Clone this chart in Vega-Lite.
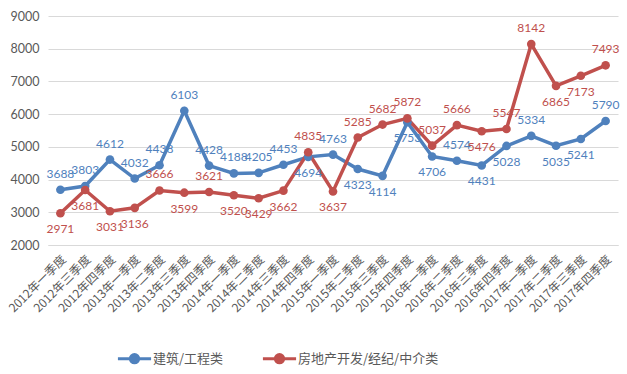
{
  "$schema": "https://vega.github.io/schema/vega-lite/v6.json",
  "width": 570,
  "height": 229,
  "autosize": {"type": "none"},
  "padding": {"left": 48, "top": 16, "right": 9, "bottom": 129},
  "background": "white",
  "config": {"view": {"stroke": null}, "font": "Noto Sans CJK SC"},
  "datasets": {
    "d": [
      {"q": "2012年一季度", "s": "建筑/工程类", "v": 3688},
      {"q": "2012年三季度", "s": "建筑/工程类", "v": 3803},
      {"q": "2012年四季度", "s": "建筑/工程类", "v": 4612},
      {"q": "2013年一季度", "s": "建筑/工程类", "v": 4032},
      {"q": "2013年二季度", "s": "建筑/工程类", "v": 4438},
      {"q": "2013年三季度", "s": "建筑/工程类", "v": 6103},
      {"q": "2013年四季度", "s": "建筑/工程类", "v": 4428},
      {"q": "2014年一季度", "s": "建筑/工程类", "v": 4188},
      {"q": "2014年二季度", "s": "建筑/工程类", "v": 4205},
      {"q": "2014年三季度", "s": "建筑/工程类", "v": 4453},
      {"q": "2014年四季度", "s": "建筑/工程类", "v": 4694},
      {"q": "2015年一季度", "s": "建筑/工程类", "v": 4763},
      {"q": "2015年二季度", "s": "建筑/工程类", "v": 4323},
      {"q": "2015年三季度", "s": "建筑/工程类", "v": 4114},
      {"q": "2015年四季度", "s": "建筑/工程类", "v": 5753},
      {"q": "2016年一季度", "s": "建筑/工程类", "v": 4706},
      {"q": "2016年二季度", "s": "建筑/工程类", "v": 4574},
      {"q": "2016年三季度", "s": "建筑/工程类", "v": 4431},
      {"q": "2016年四季度", "s": "建筑/工程类", "v": 5028},
      {"q": "2017年一季度", "s": "建筑/工程类", "v": 5334},
      {"q": "2017年二季度", "s": "建筑/工程类", "v": 5035},
      {"q": "2017年三季度", "s": "建筑/工程类", "v": 5241},
      {"q": "2017年四季度", "s": "建筑/工程类", "v": 5790},
      {"q": "2012年一季度", "s": "房地产开发/经纪/中介类", "v": 2971},
      {"q": "2012年三季度", "s": "房地产开发/经纪/中介类", "v": 3681},
      {"q": "2012年四季度", "s": "房地产开发/经纪/中介类", "v": 3031},
      {"q": "2013年一季度", "s": "房地产开发/经纪/中介类", "v": 3136},
      {"q": "2013年二季度", "s": "房地产开发/经纪/中介类", "v": 3666},
      {"q": "2013年三季度", "s": "房地产开发/经纪/中介类", "v": 3599},
      {"q": "2013年四季度", "s": "房地产开发/经纪/中介类", "v": 3621},
      {"q": "2014年一季度", "s": "房地产开发/经纪/中介类", "v": 3520},
      {"q": "2014年二季度", "s": "房地产开发/经纪/中介类", "v": 3429},
      {"q": "2014年三季度", "s": "房地产开发/经纪/中介类", "v": 3662},
      {"q": "2014年四季度", "s": "房地产开发/经纪/中介类", "v": 4835},
      {"q": "2015年一季度", "s": "房地产开发/经纪/中介类", "v": 3637},
      {"q": "2015年二季度", "s": "房地产开发/经纪/中介类", "v": 5285},
      {"q": "2015年三季度", "s": "房地产开发/经纪/中介类", "v": 5682},
      {"q": "2015年四季度", "s": "房地产开发/经纪/中介类", "v": 5872},
      {"q": "2016年一季度", "s": "房地产开发/经纪/中介类", "v": 5037},
      {"q": "2016年二季度", "s": "房地产开发/经纪/中介类", "v": 5666},
      {"q": "2016年三季度", "s": "房地产开发/经纪/中介类", "v": 5476},
      {"q": "2016年四季度", "s": "房地产开发/经纪/中介类", "v": 5547},
      {"q": "2017年一季度", "s": "房地产开发/经纪/中介类", "v": 8142},
      {"q": "2017年二季度", "s": "房地产开发/经纪/中介类", "v": 6865},
      {"q": "2017年三季度", "s": "房地产开发/经纪/中介类", "v": 7173},
      {"q": "2017年四季度", "s": "房地产开发/经纪/中介类", "v": 7493}
    ]
  },
  "data": {"name": "d"},
  "transform": [
    {"window": [{"op": "row_number", "as": "i"}], "groupby": ["s"]},
    {"joinaggregate": [{"op": "sum", "field": "v", "as": "tot"}], "groupby": ["q"]},
    {"window": [{"op": "lag", "field": "v", "as": "pv"}, {"op": "lead", "field": "v", "as": "nv"}], "groupby": ["s"], "sort": [{"field": "i"}]},
    {"calculate": "datum.tot - datum.v", "as": "o"},
    {"calculate": "datum.pv == null ? datum.nv : (datum.nv == null ? datum.pv : (datum.pv + datum.nv) / 2)", "as": "nm"},
    {"calculate": "abs(datum.v - datum.o) >= 1000 ? (datum.v >= datum.nm) : (datum.v > datum.o ? true : (abs(datum.v - datum.o) >= 700 && datum.v >= datum.nm))", "as": "above"}
  ],
  "encoding": {
    "x": {
      "field": "q", "type": "nominal", "sort": {"field": "i", "op": "min"},
      "scale": {"type": "point", "padding": 0.5},
      "axis": {
        "title": null, "labelAngle": -45, "labelAlign": "right", "labelBaseline": "middle",
        "labelFontSize": 12, "labelColor": "#595959", "labelFont": "Noto Sans CJK SC",
        "ticks": false, "domain": true, "domainColor": "#D9D9D9", "labelPadding": 12,
        "labelOffset": 3, "grid": false
      }
    },
    "y": {
      "field": "v", "type": "quantitative",
      "scale": {"domain": [2000, 9000], "nice": false, "zero": false},
      "axis": {
        "title": null, "values": [2000, 3000, 4000, 5000, 6000, 7000, 8000, 9000], "format": "d",
        "labelFontSize": 12.5, "labelColor": "#595959", "labelFont": "Lato",
        "ticks": false, "domain": false, "gridColor": "#D9D9D9", "gridWidth": 1.2,
        "labelPadding": 9
      }
    },
    "color": {
      "field": "s", "type": "nominal",
      "scale": {"domain": ["建筑/工程类", "房地产开发/经纪/中介类"], "range": ["#4F81BD", "#C0504D"]},
      "legend": {
        "title": null, "orient": "none", "direction": "horizontal", "legendX": 68, "legendY": 324,
        "labelFontSize": 13, "labelColor": "#595959", "labelFont": "Noto Sans CJK SC",
        "symbolType": "M-1,0L1,0M-0.25,0A0.25,0.25 0 1,1 0.25,0A0.25,0.25 0 1,1 -0.25,0Z",
        "symbolSize": 1100, "symbolStrokeWidth": 3, "columnPadding": 32, "labelOffset": 0
      }
    }
  },
  "layer": [
    {
      "mark": {"type": "line", "strokeWidth": 3.5, "point": {"filled": true, "size": 75}}
    },
    {
      "transform": [{"filter": "datum.above"}],
      "mark": {"type": "text", "dy": -16, "fontSize": 12, "font": "Lato"},
      "encoding": {"text": {"field": "v", "type": "quantitative", "format": "d"}}
    },
    {
      "transform": [{"filter": "!datum.above"}],
      "mark": {"type": "text", "dy": 16, "fontSize": 12, "font": "Lato"},
      "encoding": {"text": {"field": "v", "type": "quantitative", "format": "d"}}
    }
  ]
}
